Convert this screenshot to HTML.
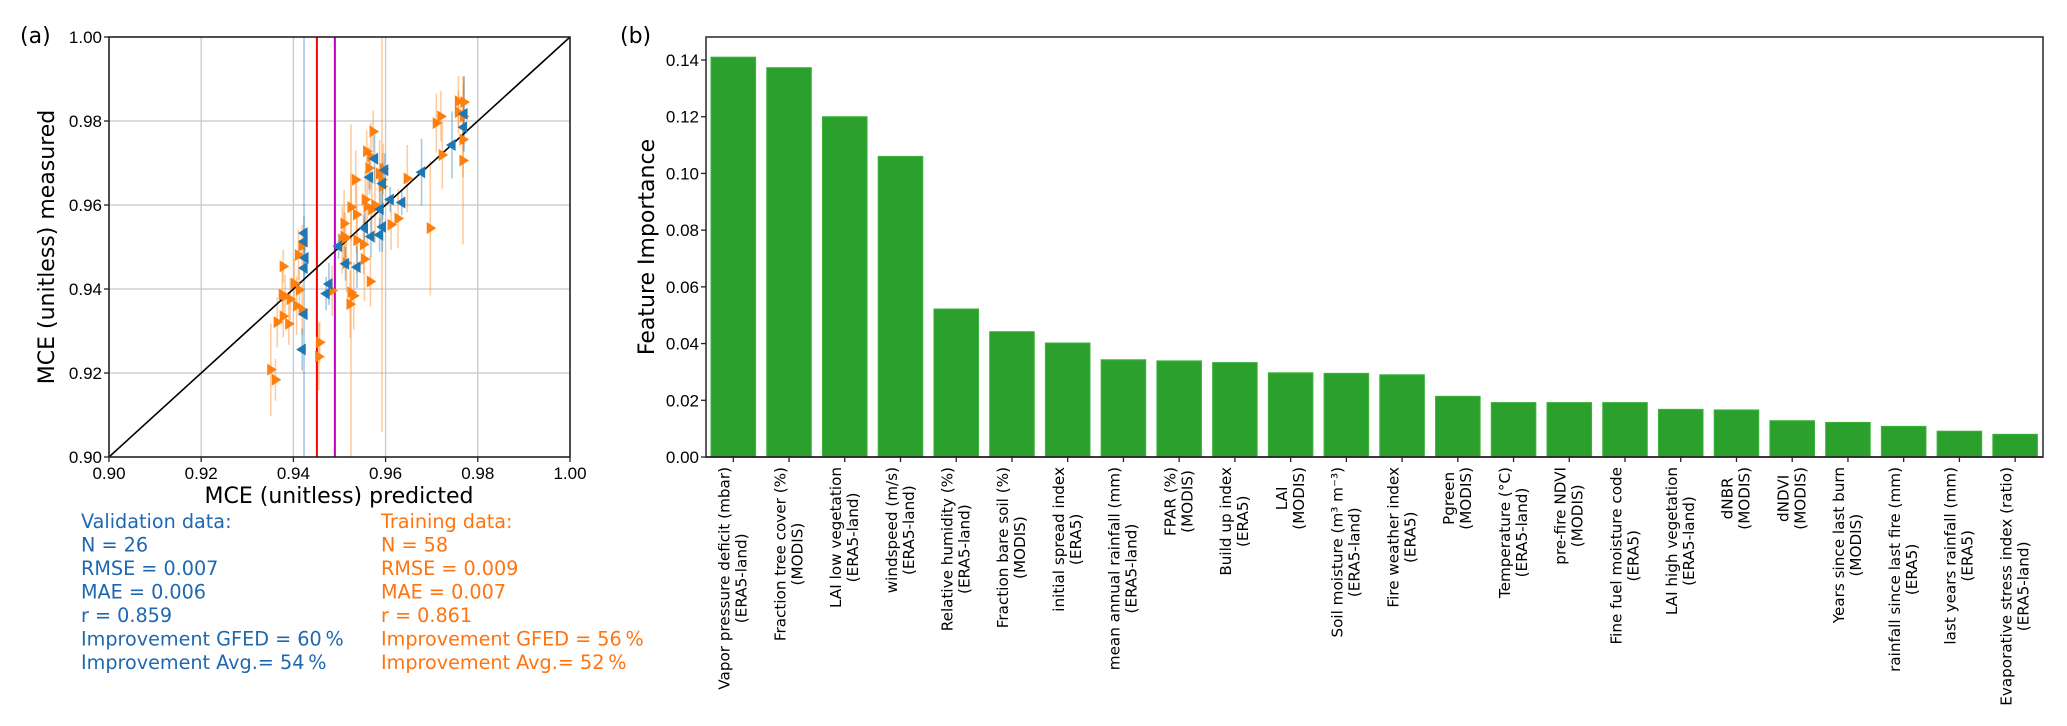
<!DOCTYPE html>
<html><head><meta charset="utf-8">
<style>
html,body{margin:0;padding:0;background:#fff;}
svg{display:block;}
text{font-family:"DejaVu Sans","Liberation Sans",sans-serif;}
.tick{font-family:"Liberation Sans",sans-serif;font-size:17px;fill:#000;}
</style></head>
<body>
<svg id="fig" width="2067" height="726" viewBox="0 0 2067 726" xmlns="http://www.w3.org/2000/svg">
  <g id="panelA"></g>
  <g id="panelB"></g>
</svg>
<script>
// ---------- Panel (a) data ----------
const valX = [.9423,.9423,.9425,.9423,.9423,.9419,.9477,.9471,.9498,.9513,.9538,.9554,.9565,.9568,.9576,.9587,.9588,.9593,.9593,.9598,.9610,.9635,.9678,.9744,.9770,.9769];
const valY = [.9533,.9513,.9474,.9450,.9340,.9256,.9412,.9389,.9502,.9460,.9452,.9545,.9666,.9525,.9710,.9529,.9590,.9548,.9651,.9683,.9613,.9606,.9678,.9743,.9817,.9785];
const valErr = [.004,.003,.004,.003,.1,.005,.005,.004,.003,.004,.005,.004,.004,.005,.006,.004,.004,.006,.005,.004,.003,.003,.008,.008,.009,.004];
const trnX = [.9351,.9361,.9365,.9378,.9376,.9378,.9390,.9393,.9402,.9407,.9411,.9413,.9419,.9419,.9457,.9455,.9484,.9510,.9510,.9515,.9513,.9523,.9525,.9531,.9525,.9535,.9537,.9538,.9554,.9556,.9559,.9564,.9567,.9568,.9570,.9573,.9577,.9587,.9592,.9595,.9612,.9627,.9647,.9697,.9710,.9720,.9723,.9758,.9758,.9770,.9768,.9768,.9769,.9552,.9560,.9593,.9506,.9382];
const trnY = [.9208,.9184,.9321,.9335,.9387,.9454,.9317,.9376,.9413,.9360,.9481,.9398,.9351,.9503,.9273,.9239,.9396,.9556,.9525,.9462,.9521,.9364,.9392,.9384,.9595,.9660,.9577,.9516,.9471,.9613,.9728,.9688,.9418,.9716,.9589,.9775,.9600,.9675,.9660,.9686,.9553,.9568,.9663,.9545,.9795,.9811,.9719,.9847,.9821,.9845,.9756,.9706,.9811,.9506,.9597,.9644,.9517,.9383];
const trnErr = [.011,.005,.006,.005,.006,.004,.005,.005,.006,.007,.006,.005,.006,.005,.005,.008,.006,.008,.006,.007,.006,.008,.04,.008,.008,.007,.009,.008,.01,.007,.005,.005,.006,.008,.007,.005,.009,.008,.06,.006,.006,.007,.008,.016,.007,.006,.008,.006,.005,.006,.009,.02,.008,.007,.009,.008,.008,.005];
const vLines = [0.9451, 0.9490];
const vLineColors = ['#ff0000','#c000c0'];
const scTicks = [0.90,0.92,0.94,0.96,0.98,1.00];
const scTickLabels = ['0.90','0.92','0.94','0.96','0.98','1.00'];
const valStats = ['Validation data:','N = 26','RMSE = 0.007','MAE = 0.006','r = 0.859','Improvement GFED = 60\u2009%','Improvement Avg.= 54\u2009%'];
const trnStats = ['Training data:','N = 58','RMSE = 0.009','MAE = 0.007','r = 0.861','Improvement GFED = 56\u2009%','Improvement Avg.= 52\u2009%'];

// ---------- Panel (b) data ----------
const featNames = [
 ['Vapor pressure deficit (mbar)','(ERA5-land)'],
 ['Fraction tree cover (%)','(MODIS)'],
 ['LAI low vegetation','(ERA5-land)'],
 ['windspeed (m/s)','(ERA5-land)'],
 ['Relative humidity (%)','(ERA5-land)'],
 ['Fraction bare soil (%)','(MODIS)'],
 ['initial spread index','(ERA5)'],
 ['mean annual rainfall (mm)','(ERA5-land)'],
 ['FPAR (%)','(MODIS)'],
 ['Build up index','(ERA5)'],
 ['LAI','(MODIS)'],
 ['Soil moisture (m\u00b3 m\u207b\u00b3)','(ERA5-land)'],
 ['Fire weather index','(ERA5)'],
 ['Pgreen','(MODIS)'],
 ['Temperature (\u00b0C)','(ERA5-land)'],
 ['pre-fire NDVI','(MODIS)'],
 ['Fine fuel moisture code','(ERA5)'],
 ['LAI high vegetation','(ERA5-land)'],
 ['dNBR','(MODIS)'],
 ['dNDVI','(MODIS)'],
 ['Years since last burn','(MODIS)'],
 ['rainfall since last fire (mm)','(ERA5)'],
 ['last years rainfall (mm)','(ERA5)'],
 ['Evaporative stress index (ratio)','(ERA5-land)']
];
const importance = [0.141,0.1373,0.120,0.106,0.0522,0.0442,0.0402,0.0343,0.0339,0.0333,0.0297,0.0295,0.0290,0.0214,0.0192,0.0192,0.0192,0.0168,0.0166,0.0128,0.0122,0.0108,0.0091,0.0080];
const barTicks = [0,0.02,0.04,0.06,0.08,0.10,0.12,0.14];
const barTickLabels = ['0.00','0.02','0.04','0.06','0.08','0.10','0.12','0.14'];

const NS='http://www.w3.org/2000/svg';
function mk(tag, attrs, parent, txt){
  const e=document.createElementNS(NS,tag);
  for(const k in attrs) e.setAttribute(k,attrs[k]);
  if(txt!==undefined) e.textContent=txt;
  parent.appendChild(e); return e;
}

// ===== Panel A =====
const A=document.getElementById('panelA');
const aL=109,aR=570,aT=37,aB=457;
const sx=v=>aL+(v-0.9)/0.1*(aR-aL);
const sy=v=>aB-(v-0.9)/0.1*(aB-aT);
const clipA=mk('clipPath',{id:'clipA'},A);
mk('rect',{x:aL,y:aT,width:aR-aL,height:aB-aT},clipA);
const plotA=mk('g',{'clip-path':'url(#clipA)'},A);


scTicks.forEach((t,i)=>{
  if(i>0&&i<scTicks.length-1){
    const g1=mk('line',{x1:sx(t),x2:sx(t),y1:aT,y2:aB,stroke:'#c8c8c8','stroke-width':1.3},plotA);
    
    
    const g2=mk('line',{x1:aL,x2:aR,y1:sy(t),y2:sy(t),stroke:'#c8c8c8','stroke-width':1.3},plotA);
    
    
  }
});
function errbars(X,Y,E,col,name){
  X.forEach((x,i)=>{
    const l=mk('line',{x1:sx(x),x2:sx(x),y1:sy(Y[i]+E[i]),y2:sy(Y[i]-E[i]),stroke:col,'stroke-width':1.6,'stroke-opacity':0.4},plotA);
    
    
  });
}
errbars(trnX,trnY,trnErr,'#ff7f0e','training-error-bar');
errbars(valX,valY,valErr,'#1f77b4','validation-error-bar');
vLines.forEach((v,i)=>{
  const l=mk('line',{x1:sx(v),x2:sx(v),y1:aT,y2:aB,stroke:vLineColors[i],'stroke-width':2},plotA);
  
  
});
const diag=mk('line',{x1:sx(0.9),y1:sy(0.9),x2:sx(1.0),y2:sy(1.0),stroke:'#000','stroke-width':1.6},plotA);


const s=6;
trnX.forEach((x,i)=>{
  const cx=sx(x),cy=sy(trnY[i]);
  const p=mk('polygon',{points:`${cx-s*0.6},${cy-s} ${cx+s},${cy} ${cx-s*0.6},${cy+s}`,fill:'#ff7f0e'},plotA);
  
  
});
valX.forEach((x,i)=>{
  const cx=sx(x),cy=sy(valY[i]);
  const p=mk('polygon',{points:`${cx+s*0.6},${cy-s} ${cx-s},${cy} ${cx+s*0.6},${cy+s}`,fill:'#1f77b4'},plotA);
  
  
});
const boxA=mk('rect',{x:aL,y:aT,width:aR-aL,height:aB-aT,fill:'none',stroke:'#222','stroke-width':1.6},A);


scTicks.forEach((t,i)=>{
  mk('line',{x1:sx(t),x2:sx(t),y1:aB,y2:aB+5,stroke:'#222','stroke-width':1.3},A);
  const xl=mk('text',{x:sx(t),y:aB+22,'text-anchor':'middle',class:'tick'},A,scTickLabels[i]);
  
  
  mk('line',{x1:aL-5,x2:aL,y1:sy(t),y2:sy(t),stroke:'#222','stroke-width':1.3},A);
  const yl=mk('text',{x:aL-7,y:sy(t)+6,'text-anchor':'end',class:'tick'},A,scTickLabels[i]);
  
  
});
const xt=mk('text',{x:339,y:503,'text-anchor':'middle','font-size':22},A,'MCE (unitless) predicted');


const yt=mk('text',{transform:'translate(54,247) rotate(-90)','text-anchor':'middle','font-size':22},A,'MCE (unitless) measured');


const la=mk('text',{x:20,y:43,'font-size':22},A,'(a)');


valStats.forEach((t,i)=>{
  const e=mk('text',{x:81,y:528+i*23.5,'font-size':19.2,fill:'#1f68b0'},A,t);
  
  
});
trnStats.forEach((t,i)=>{
  const e=mk('text',{x:381,y:528+i*23.5,'font-size':19.2,fill:'#ff7410'},A,t);
  
  
});

// ===== Panel B =====
const B=document.getElementById('panelB');
const bL=706,bR=2043,bT=37,bB=457;
const n=importance.length;
const xmin=-0.49,xmax=n-1+0.5;
const bx=i=>bL+(i-xmin)/(xmax-xmin)*(bR-bL);
const by=v=>bB-(v/0.14)*(bB-60);
const unit=(bR-bL)/(xmax-xmin);
importance.forEach((v,i)=>{
  const r=mk('rect',{x:bx(i)-0.4*unit,y:by(v),width:0.8*unit,height:bB-by(v),fill:'#2ca02c',stroke:'#3cb43c','stroke-width':1},B);
  
  
});
const boxB=mk('rect',{x:bL,y:bT,width:bR-bL,height:bB-bT,fill:'none',stroke:'#333','stroke-width':1.6},B);


mk('line',{x1:bL,x2:bR,y1:bB,y2:bB,stroke:'#222','stroke-width':1.6},B);
barTicks.forEach((t,i)=>{
  mk('line',{x1:bL-5,x2:bL,y1:by(t),y2:by(t),stroke:'#222','stroke-width':1.3},B);
  const yl=mk('text',{x:bL-7,y:by(t)+6,'text-anchor':'end',class:'tick'},B,barTickLabels[i]);
  
  
});
const L=17, topY=467;
featNames.forEach((lines,i)=>{
  const cx=bx(i);
  mk('line',{x1:cx,x2:cx,y1:bB,y2:bB+5,stroke:'#222','stroke-width':1.3},B);
  const g=mk('g',{},B);
  
  
  const left=cx-lines.length*L/2;
  const els=lines.map((t,j)=>{
    const e=mk('text',{'font-size':15.2,'text-anchor':'end'},g,t);
    e._bx=left+j*L+0.78*L; return e;
  });
  const ws=els.map(e=>e.getComputedTextLength());
  const mw=Math.max(...ws);
  els.forEach((e,j)=>{
    e.setAttribute('transform',`translate(${e._bx},${topY}) rotate(-90)`);
    e.setAttribute('x',-(mw-ws[j])/2);
  });
});
const byt=mk('text',{transform:'translate(654,247) rotate(-90)','text-anchor':'middle','font-size':22},B,'Feature Importance');


const lb=mk('text',{x:620,y:43,'font-size':22},B,'(b)');


</script>
</body></html>
